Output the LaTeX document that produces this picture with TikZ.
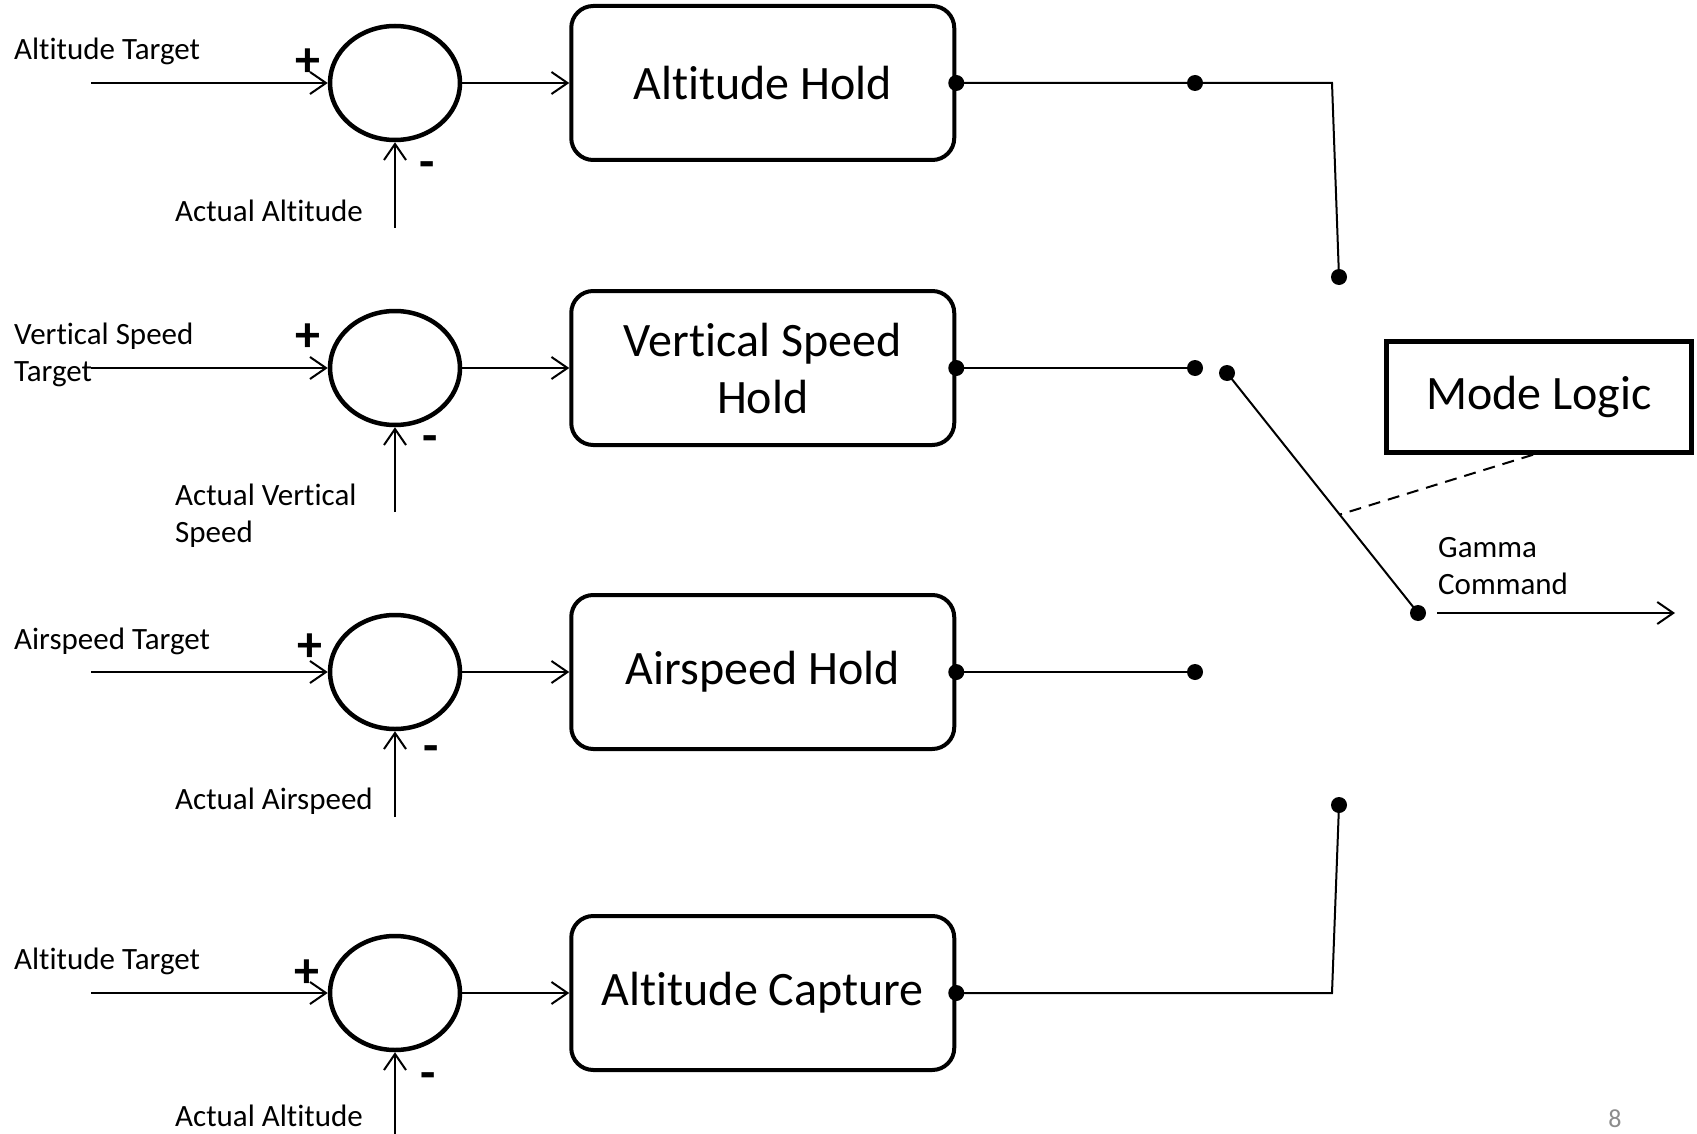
\documentclass[tikz,border=0pt]{standalone}
\usepackage{fontspec}
\setmainfont{Carlito}[Ligatures={NoCommon,NoContextual}]
\usetikzlibrary{arrows.meta,calc,positioning,shapes.geometric}
\definecolor{pagegray}{RGB}{140,140,140}

\begin{document}
\begin{tikzpicture}[
      x=1pt, y=-1pt,
      node distance=107pt,
      sum/.style={ellipse, draw, line width=4.5pt, minimum width=130pt, minimum height=114pt, inner sep=0pt},
      ctrl/.style={draw, rounded corners=22pt, line width=4pt, minimum width=383pt, minimum height=154pt, align=center, inner sep=0pt, font=\fontsize{48}{57}\selectfont},
      lbl/.style={anchor=west, align=left, inner sep=0pt, font=\fontsize{31}{37}\selectfont},
      sgn/.style={inner sep=0pt, font=\bfseries\fontsize{50}{50}\selectfont},
      dot/.style={circle, fill, inner sep=0pt, minimum size=16pt},
      wire/.style={line width=2pt},
      arr/.style={-{Straight Barb[length=16pt,width=22pt]}, line width=2pt}
    ]
      \useasboundingbox (0,0) rectangle (1697,1134);

      % row 1: altitude hold
      \node[sum] (sum1) at (395,83) {};
      \node[ctrl, right=of sum1] (althold) {Altitude Hold};
      \node[lbl] (tgt1) at (14,51) {Altitude Target};
      \node[lbl] (act1) at (175,211) {Actual Altitude};
      \node[sgn] (p1) at (308,63) {+};
      \node[sgn] (m1) at (427,170) {-};
      \coordinate (in1) at (91,83);
      \coordinate (fb1) at (395,228);
      \draw[arr] (in1) -- (sum1.west);
      \draw[arr] (fb1) -- (sum1.south);
      \draw[arr] (sum1.east) -- (althold.west);

      % row 2: vertical speed hold
      \node[sum] (sum2) at (395,368) {};
      \node[ctrl, right=of sum2] (vshold) {Vertical Speed\\Hold};
      \node[lbl] (tgt2) at (14,355) {Vertical Speed\\Target};
      \node[lbl] (act2) at (175,516) {Actual Vertical\\Speed};
      \node[sgn] (p2) at (308,338) {+};
      \node[sgn] (m2) at (430,444) {-};
      \coordinate (in2) at (91,368);
      \coordinate (fb2) at (395,512);
      \draw[arr] (in2) -- (sum2.west);
      \draw[arr] (fb2) -- (sum2.south);
      \draw[arr] (sum2.east) -- (vshold.west);

      % row 3: airspeed hold
      \node[sum] (sum3) at (395,672) {};
      \node[ctrl, right=of sum3] (ashold) {Airspeed Hold};
      \node[lbl] (tgt3) at (14,641) {Airspeed Target};
      \node[lbl] (act3) at (175,801) {Actual Airspeed};
      \node[sgn] (p3) at (310,648) {+};
      \node[sgn] (m3) at (431,754) {-};
      \coordinate (in3) at (91,672);
      \coordinate (fb3) at (395,817);
      \draw[arr] (in3) -- (sum3.west);
      \draw[arr] (fb3) -- (sum3.south);
      \draw[arr] (sum3.east) -- (ashold.west);

      % row 4: altitude capture
      \node[sum] (sum4) at (395,993) {};
      \node[ctrl, right=of sum4] (altcap) {Altitude Capture};
      \node[lbl] (tgt4) at (14,961) {Altitude Target};
      \node[lbl] (act4) at (175,1116) {Actual Altitude};
      \node[sgn] (p4) at (307,974) {+};
      \node[sgn] (m4) at (428,1081) {-};
      \coordinate (in4) at (91,993);
      \coordinate (fb4) at (395,1134);
      \draw[arr] (in4) -- (sum4.west);
      \draw[arr] (fb4) -- (sum4.south);
      \draw[arr] (sum4.east) -- (altcap.west);

      % switch contacts
      \node[dot] (o1) at (althold.east) {};
      \node[dot] (o2) at (vshold.east) {};
      \node[dot] (o3) at (ashold.east) {};
      \node[dot] (o4) at (altcap.east) {};
      \node[dot] (d1) at (1195,83) {};
      \node[dot] (d2) at (1195,368) {};
      \node[dot] (d3) at (1195,672) {};
      \node[dot] (c1) at (1339,277) {};
      \node[dot] (c4) at (1339,805) {};
      \node[dot] (arm) at (1227,373) {};
      \node[dot] (pole) at (1418,613) {};
      \coordinate (k1) at (1332,83);
      \coordinate (k4) at (1332,993);
      \draw[wire] (o1.center) -- (d1.center) -- (k1) -- (c1.center);
      \draw[wire] (o2.center) -- (d2.center);
      \draw[wire] (o3.center) -- (d3.center);
      \draw[wire] (o4.center) -- (k4) -- (c4.center);
      \draw[wire] (arm.center) -- (pole.center);

      % mode logic
      \node[draw, line width=4.5pt, line join=miter, minimum width=305pt, minimum height=111pt, font=\fontsize{48}{57}\selectfont] (logic) at (1539,397) {Mode Logic};
      \coordinate (tap) at ($(arm.center)!0.59!(pole.center)$);
      \draw[wire, dash pattern=on 12pt off 8pt] ([xshift=-6pt]logic.south) -- (tap);

      % output
      \coordinate (gout) at (1675,613);
      \draw[arr] ([xshift=19pt]pole.center) -- (gout);
      \node[lbl] (gamma) at (1438,566) {Gamma\\Command};

      \node[font=\fontsize{26}{30}\selectfont, text=pagegray] (pnum) at (1615,1119) {8};
    \end{tikzpicture}
\end{document}
